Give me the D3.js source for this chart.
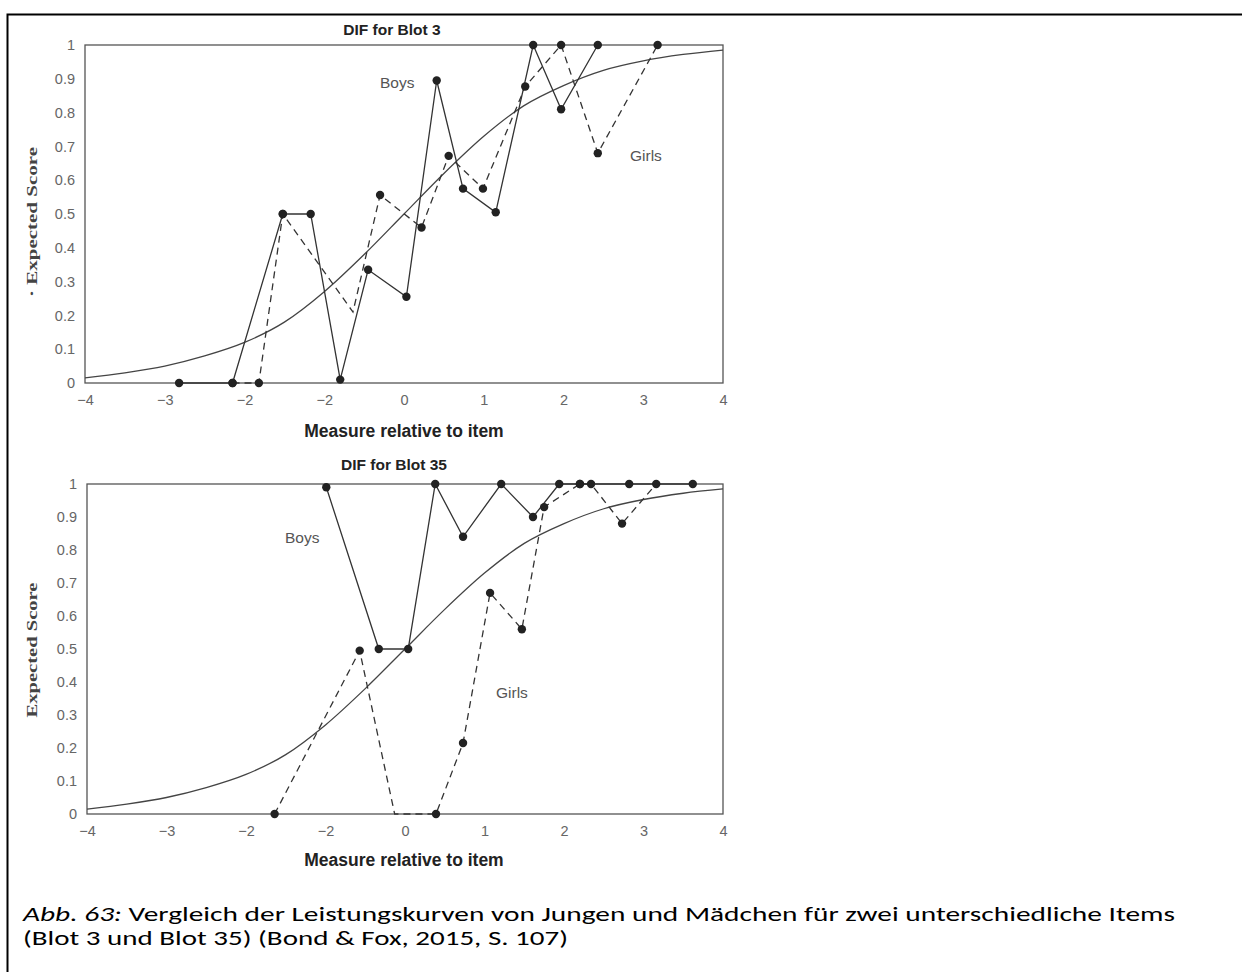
<!DOCTYPE html>
<html>
<head>
<meta charset="utf-8">
<script src="https://cdn.jsdelivr.net/npm/d3@7"></script>
<style>
  body { margin: 0; background: #fff; }
  svg { display: block; }
</style>
</head>
<body>
<div id="chart"></div>
<script>
// values (Bond & Fox)
var xTicks = [-4, -3, -2, -1, 0, 1, 2, 3, 4];
var xTickLabels = ["\u22124", "\u22123", "\u22122", "\u22122", "0", "1", "2", "3", "4"]; // source prints -2 twice
var yTicks = [0, 0.1, 0.2, 0.3, 0.4, 0.5, 0.6, 0.7, 0.8, 0.9, 1];
var yTickLabels = ["0", "0.1", "0.2", "0.3", "0.4", "0.5", "0.6", "0.7", "0.8", "0.9", "1"];

// model curve (expected score), read at half steps
var modelCurve = [[-4, 0.015], [-3.5, 0.03], [-3, 0.05], [-2.5, 0.08], [-2, 0.12], [-1.5, 0.18],
  [-1, 0.27], [-0.5, 0.38], [0, 0.5], [0.5, 0.62], [1, 0.73], [1.5, 0.82], [2, 0.88],
  [2.5, 0.925], [3, 0.953], [3.5, 0.972], [4, 0.985]];

// Blot 3
var boys3 = [[-2.82, 0], [-2.15, 0], [-1.52, 0.5], [-1.17, 0.5], [-0.80, 0.01], [-0.45, 0.335],
  [0.03, 0.255], [0.41, 0.895], [0.74, 0.575], [1.15, 0.505], [1.62, 1], [1.97, 0.81], [2.43, 1]];
var girls3 = [[-2.15, 0], [-1.82, 0], [-1.52, 0.5], [-0.64, 0.21], [-0.30, 0.556], [0.22, 0.46],
  [0.56, 0.672], [0.99, 0.575], [1.52, 0.877], [1.97, 1], [2.43, 0.68], [3.18, 1]];
var girls3NoDot = [3];

// Blot 35
var boys35 = [[-0.99, 0.99], [-0.33, 0.5], [0.04, 0.5], [0.38, 1], [0.73, 0.84], [1.21, 1],
  [1.61, 0.9], [1.94, 1], [2.2, 1], [2.82, 1], [3.62, 1]];
var girls35 = [[-1.64, 0], [-0.57, 0.495], [-0.13, 0], [0.39, 0], [0.73, 0.215], [1.07, 0.67],
  [1.47, 0.56], [1.75, 0.93], [2.2, 1], [2.34, 1], [2.73, 0.88], [3.16, 1]];
var girls35NoDot = [2];

var W = 1242, H = 972;
var svg = d3.select("#chart").append("svg")
    .attr("width", W)
    .attr("height", H);

svg.append("rect").attr("width", W).attr("height", H).attr("fill", "#fff");

// page frame (top and left edges visible)
svg.append("path")
    .attr("d", "M7.5," + H + "V14.5H" + W)
    .attr("fill", "none")
    .attr("stroke", "#000")
    .attr("stroke-width", 2);

var sans = "'Liberation Sans', Arial, Helvetica, sans-serif";

function drawPanel(p) {
    var x = d3.scaleLinear().domain([-4, 4]).range([p.left, p.right]);
    var y = d3.scaleLinear().domain([0, 1]).range([p.bottom, p.top]);
    var g = svg.append("g");

    // plot box
    g.append("rect")
        .attr("x", p.left).attr("y", p.top)
        .attr("width", p.right - p.left).attr("height", p.bottom - p.top)
        .attr("fill", "none").attr("stroke", "#555").attr("stroke-width", 1.3);

    // y axis labels only, no ticks
    var ya = g.append("g")
        .attr("transform", "translate(" + p.left + ",0)")
        .call(d3.axisLeft(y).tickValues(yTicks).tickSize(0).tickPadding(10)
            .tickFormat(function(d, i) { return yTickLabels[i]; }));
    ya.select(".domain").remove();
    ya.selectAll("text").attr("font-family", sans).attr("font-size", 14.5).attr("fill", "#666");

    var xa = g.append("g")
        .attr("transform", "translate(0," + p.bottom + ")")
        .call(d3.axisBottom(x).tickValues(xTicks).tickSize(0).tickPadding(12)
            .tickFormat(function(d, i) { return xTickLabels[i]; }));
    xa.select(".domain").remove();
    xa.selectAll("text").attr("font-family", sans).attr("font-size", 14.5).attr("fill", "#666");

    // model curve
    g.append("path")
        .datum(modelCurve)
        .attr("d", d3.line().x(function(d) { return x(d[0]); }).y(function(d) { return y(d[1]); })
            .curve(d3.curveMonotoneX))
        .attr("fill", "none").attr("stroke", "#444").attr("stroke-width", 1.3);

    var line = d3.line().x(function(d) { return x(d[0]); }).y(function(d) { return y(d[1]); });

    g.append("path").datum(p.girls).attr("d", line)
        .attr("fill", "none").attr("stroke", "#333").attr("stroke-width", 1.3)
        .attr("stroke-dasharray", "7,5");
    g.append("path").datum(p.boys).attr("d", line)
        .attr("fill", "none").attr("stroke", "#333").attr("stroke-width", 1.3);

    var dots = p.boys.concat(p.girls.filter(function(d, i) { return p.girlsNoDot.indexOf(i) < 0; }));
    g.selectAll(".dot").data(dots).enter().append("circle")
        .attr("cx", function(d) { return x(d[0]); })
        .attr("cy", function(d) { return y(d[1]); })
        .attr("r", 4.2)
        .attr("fill", "#222");

    // titles
    g.append("text")
        .attr("x", p.titleX).attr("y", p.titleY)
        .attr("text-anchor", "middle")
        .attr("font-family", sans).attr("font-weight", "bold").attr("font-size", 15.5)
        .attr("fill", "#222")
        .text(p.title);

    g.append("text")
        .attr("x", 404).attr("y", p.xTitleY)
        .attr("text-anchor", "middle")
        .attr("font-family", sans).attr("font-weight", "bold").attr("font-size", 17.5)
        .attr("fill", "#222")
        .text("Measure relative to item");

    g.append("text")
        .attr("transform", "translate(37," + p.yTitleMid + ") rotate(-90)")
        .attr("text-anchor", "middle")
        .attr("font-family", "'Liberation Serif', 'Times New Roman', serif")
        .attr("font-weight", "bold").attr("font-size", 15.5)
        .attr("fill", "#444")
        .attr("textLength", p.yTitleLen).attr("lengthAdjust", "spacingAndGlyphs")
        .text(p.yTitle);

    // group labels
    p.labels.forEach(function(l) {
        g.append("text")
            .attr("x", l[1]).attr("y", l[2])
            .attr("font-family", sans).attr("font-size", 15.5).attr("fill", "#555")
            .text(l[0]);
    });
}

drawPanel({
    left: 85, right: 723, top: 45, bottom: 383,
    boys: boys3, girls: girls3, girlsNoDot: girls3NoDot,
    title: "DIF for Blot 3", titleX: 392, titleY: 35,
    xTitleY: 437,
    yTitle: "\u00b7 Expected Score", yTitleMid: 222, yTitleLen: 150,
    labels: [["Boys", 380, 88], ["Girls", 630, 161]]
});

drawPanel({
    left: 87, right: 723, top: 484, bottom: 814,
    boys: boys35, girls: girls35, girlsNoDot: girls35NoDot,
    title: "DIF for Blot 35", titleX: 394, titleY: 470,
    xTitleY: 866,
    yTitle: "Expected Score", yTitleMid: 650, yTitleLen: 135,
    labels: [["Boys", 285, 543], ["Girls", 496, 698]]
});

// caption
var capFont = "Carlito, Calibri, Lato, 'Open Sans', sans-serif";
var cap1 = svg.append("text")
    .attr("x", 23).attr("y", 921)
    .attr("font-family", capFont).attr("font-size", 20.5).attr("fill", "#000");
cap1.append("tspan").attr("font-style", "italic").text("Abb. 63:");
cap1.append("tspan").text(" Vergleich der Leistungskurven von Jungen und M\u00e4dchen f\u00fcr zwei unterschiedliche Items");
cap1.attr("textLength", 1152).attr("lengthAdjust", "spacingAndGlyphs");

svg.append("text")
    .attr("x", 23).attr("y", 945)
    .attr("font-family", capFont).attr("font-size", 20.5).attr("fill", "#000")
    .attr("textLength", 545).attr("lengthAdjust", "spacingAndGlyphs")
    .text("(Blot 3 und Blot 35) (Bond & Fox, 2015, S. 107)");
</script>
</body>
</html>
